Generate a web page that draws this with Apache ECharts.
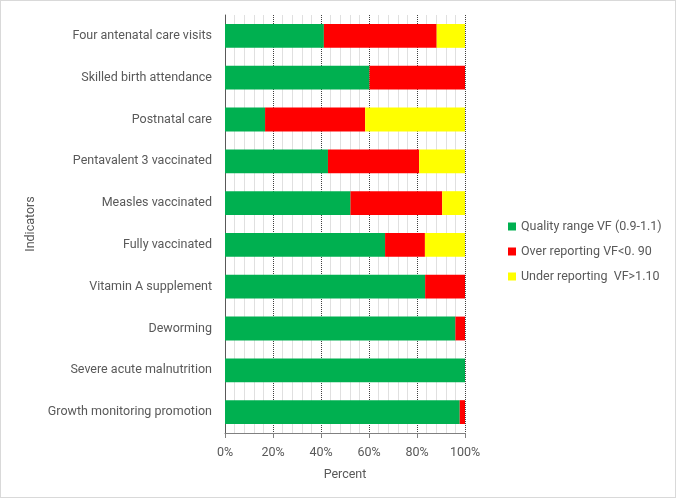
<!DOCTYPE html>
<html><head><meta charset="utf-8">
<script src="https://cdn.jsdelivr.net/npm/echarts@6/dist/echarts.min.js"></script>
<style>html,body{margin:0;padding:0;background:#fff}#c{width:676px;height:498px;box-sizing:border-box;border:1px solid #d9d9d9}</style>
</head><body><div id="c"></div>
<script>
const categories = ["Four antenatal care visits","Skilled birth attendance","Postnatal care","Pentavalent 3 vaccinated","Measles vaccinated","Fully vaccinated","Vitamin A supplement","Deworming","Severe acute malnutrition","Growth monitoring promotion"];
const quality = [41.2, 60.2, 16.7, 42.9, 52.3, 66.7, 83.4, 96.0, 100, 97.8];
const over    = [47.0, 39.8, 41.7, 38.0, 38.2, 16.6, 16.6, 4.0, 0, 2.2];
const under   = [11.8, 0, 41.6, 19.1, 9.5, 16.7, 0, 0, 0, 0];
const seriesNames = ["Quality range VF (0.9-1.1)","Over reporting VF<0. 90","Under reporting  VF>1.10"];
const tickLabels = ["0%","20%","40%","60%","80%","100%"];
const font = "Roboto";
const fs = 12.5;
const chart = echarts.init(document.getElementById('c'), null, {renderer:'canvas'});
function mk(name, data, color){
  return {name, type:'bar', stack:'t', data, barWidth:'57%', itemStyle:{color}, emphasis:{disabled:true}};
}
chart.setOption({
  animation:false,
  textStyle:{fontFamily:font},
  grid:{left:224, right:210, top:14, bottom:64, containLabel:false},
  legend:{orient:'vertical', left:502, top:214, itemWidth:8, itemHeight:8, itemGap:12,
    icon:'rect', textStyle:{fontFamily:font, fontSize:fs, color:'#595959'}, selectedMode:false},
  xAxis:{type:'value', min:0, max:100, interval:20,
    name:'Percent', nameLocation:'middle', nameGap:35, nameTextStyle:{fontFamily:font, fontSize:fs, color:'#595959'},
    axisLine:{show:true, lineStyle:{color:'#808080'}},
    axisTick:{show:true, length:5, lineStyle:{color:'#808080'}},
    axisLabel:{formatter:(v)=>tickLabels[v/20], fontFamily:font, fontSize:fs, color:'#595959', margin:13},
    splitLine:{show:true, lineStyle:{color:'#404040', type:'dotted', width:1}},
    minorTick:{show:true, splitNumber:5, length:0},
    minorSplitLine:{show:true, lineStyle:{color:'#e0e0e0', width:1}}
  },
  yAxis:{type:'category', data:categories, inverse:true,
    name:'Indicators', nameLocation:'middle', nameGap:188, nameRotate:90,
    nameTextStyle:{fontFamily:font, fontSize:fs, color:'#595959'},
    axisLine:{show:true, lineStyle:{color:'#595959'}},
    axisTick:{show:false},
    axisLabel:{fontFamily:font, fontSize:fs, color:'#595959', margin:13}
  },
  series:[mk(seriesNames[0], quality, '#00B050'), mk(seriesNames[1], over, '#FF0000'), mk(seriesNames[2], under, '#FFFF00')]
});
</script></body></html>
